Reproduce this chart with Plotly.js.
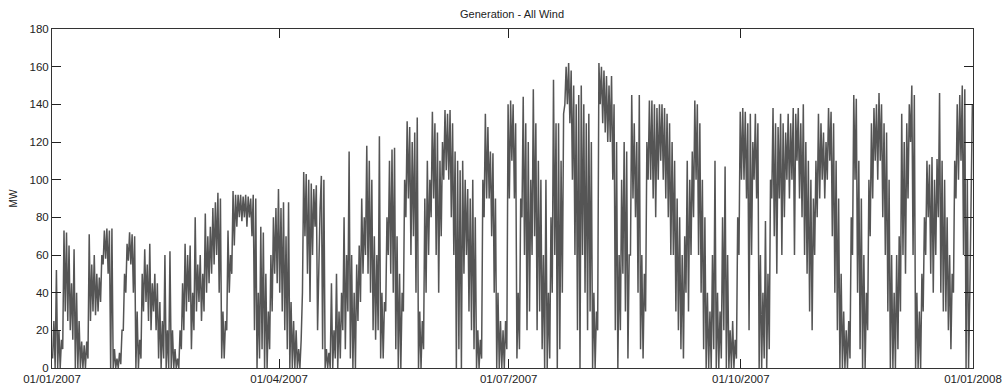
<!DOCTYPE html>
<html>
<head>
<meta charset="utf-8">
<script src="https://cdn.plot.ly/plotly-3.0.1.min.js"></script>
<style>html,body{margin:0;padding:0;background:#fff;}#chart{width:1004px;height:388px;}</style>
</head>
<body>
<div id="chart"></div>
<script>
// Daily high / low generation (MW), one entry per day of 2007
const dayHigh = [
 25,52,20,15,73,72,65,45,63,40,
 25,14,12,14,71,55,60,50,48,60,
 73,74,73,74,10,5,8,20,50,66,
 72,71,70,30,15,50,63,55,66,45,
 50,45,35,25,60,20,62,20,10,5,
 20,45,66,60,65,40,80,55,60,50,
 82,70,75,85,88,93,90,30,25,73,
 60,94,92,92,92,91,92,91,90,92,
 90,40,75,72,50,30,60,80,85,95,
 85,88,70,88,35,25,20,10,15,104,
 103,100,98,95,97,60,102,100,10,8,
 45,20,50,30,40,80,60,115,60,40,
 55,65,90,80,118,110,100,70,60,123,
 40,35,80,110,116,117,70,50,40,100,
 131,128,120,125,133,30,25,90,110,100,
 136,130,125,110,120,137,135,137,130,115,
 110,105,110,100,95,90,100,80,20,15,
 100,135,128,115,114,90,40,25,20,25,
 140,142,140,130,40,90,144,130,120,100,
 148,130,110,100,60,100,40,80,153,130,
 130,110,135,160,162,158,150,140,145,150,
 140,130,135,120,40,30,162,160,158,155,
 150,155,140,120,60,100,120,115,60,145,
 130,120,145,60,50,120,142,142,140,138,
 140,140,138,135,130,120,110,90,80,60,
 70,110,100,115,142,140,130,100,80,40,
 30,60,110,40,30,80,107,60,20,25,
 15,80,136,138,136,130,135,120,135,130,
 60,40,78,50,100,138,130,128,135,130,
 125,135,130,138,135,138,130,140,120,110,
 100,90,110,135,130,125,120,138,136,130,
 110,90,50,30,20,25,80,145,143,110,
 90,60,40,100,130,138,140,146,140,130,
 125,100,60,40,60,70,135,120,130,140,
 150,145,40,30,50,80,110,108,112,100,
 111,146,110,100,80,60,50,110,140,145,
 150,148,100,40,140
];
const dayLow = [
 5,0,0,0,10,30,25,20,15,0,
 0,0,0,0,5,25,30,28,30,35,
 55,58,50,0,0,0,0,2,20,40,
 57,55,40,0,0,5,30,35,25,20,
 30,20,5,0,5,0,0,0,0,0,
 0,10,20,30,35,10,20,30,35,25,
 30,40,45,50,55,60,40,5,5,20,
 40,50,65,75,80,78,80,75,80,70,
 20,0,5,10,0,0,10,30,50,45,
 40,30,20,10,0,0,0,0,0,40,
 70,50,35,60,75,20,85,10,0,0,
 0,0,5,0,5,20,10,30,5,0,
 0,25,35,50,60,50,40,20,15,20,
 5,5,30,60,50,40,10,0,0,30,
 80,90,60,70,40,0,0,10,40,60,
 80,90,60,40,70,100,105,100,80,60,
 0,10,0,50,60,30,20,10,0,0,
 5,80,90,90,70,40,0,0,0,0,
 10,90,110,90,5,10,80,60,20,30,
 60,70,20,30,10,0,0,5,40,60,
 0,10,40,140,140,130,100,60,20,0,
 60,40,20,30,0,0,20,140,130,125,
 120,120,100,20,0,20,50,30,5,60,
 90,80,40,10,5,30,100,100,90,80,
 100,110,100,90,80,60,60,30,20,10,
 5,40,30,60,80,100,60,40,10,0,
 0,0,10,0,0,5,20,0,0,0,
 0,5,60,100,100,90,20,60,100,90,
 0,0,5,0,10,90,70,50,90,60,
 80,100,90,100,60,110,90,80,60,50,
 30,20,60,80,90,100,90,100,110,70,
 40,20,0,0,0,0,5,60,100,40,
 10,0,0,20,70,90,110,100,110,80,
 60,30,0,0,0,10,30,60,50,90,
 120,60,0,0,0,30,60,80,50,40,
 60,80,40,30,30,20,10,40,90,100,
 110,60,0,0,90
];
const startDate = '2007-01-01';
const endDate = '2008-01-01';
const tickDates = ['2007-01-01','2007-04-01','2007-07-01','2007-10-01','2008-01-01'];
const tickLabels = ['01/01/2007','01/04/2007','01/07/2007','01/10/2007','01/01/2008'];
const yTicks = [0,20,40,60,80,100,120,140,160,180];

// Build the series: each day contributes its low then its high
const t0 = Date.UTC(2007,0,1);
const DAY = 86400000;
const xs = [], ys = [];
for (let i = 0; i < dayHigh.length; i++) {
  xs.push(t0 + (i + 0.25) * DAY); ys.push(dayLow[i]);
  xs.push(t0 + (i + 0.75) * DAY); ys.push(dayHigh[i]);
}

const font = {family: 'Liberation Sans, Arial, sans-serif', size: 11, color: '#222'};
Plotly.newPlot('chart', [{
  x: xs, y: ys, type: 'scatter', mode: 'lines',
  line: {color: '#555555', width: 1.5},
  hoverinfo: 'skip'
}], {
  width: 1004, height: 388,
  margin: {l: 52, r: 31, t: 29, b: 20},
  paper_bgcolor: '#fff', plot_bgcolor: '#fff',
  font: font,
  showlegend: false,
  title: {text: 'Generation - All Wind', font: {family: font.family, size: 11, color: '#222'}, x: 0.51, xanchor: 'center', y: 0.963, yanchor: 'middle'},
  xaxis: {
    type: 'date', range: [startDate, endDate],
    tickmode: 'array', tickvals: tickDates, ticktext: tickLabels,
    ticks: 'inside', ticklen: 9, tickcolor: '#222', tickwidth: 1,
    showline: true, linecolor: '#333', linewidth: 1, mirror: 'ticks',
    showgrid: false, zeroline: false,
    tickfont: {family: font.family, size: 11.5, color: '#222'}
  },
  yaxis: {
    range: [0, 180], tickmode: 'array', tickvals: yTicks,
    ticks: 'inside', ticklen: 9, tickcolor: '#222', tickwidth: 1,
    showline: true, linecolor: '#333', linewidth: 1, mirror: 'ticks',
    showgrid: false, zeroline: false,
    tickfont: {family: font.family, size: 11.5, color: '#222'},
    title: {text: 'MW', font: {family: font.family, size: 10, color: '#222'}, standoff: 10}
  }
}, {displayModeBar: false, staticPlot: true});
</script>
</body>
</html>
